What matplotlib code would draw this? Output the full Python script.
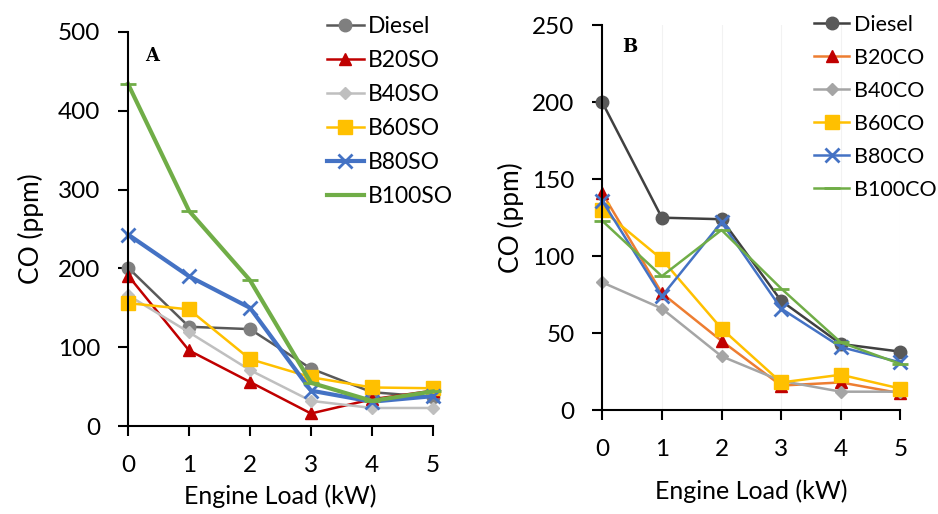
import matplotlib.pyplot as plt

plt.rcParams['font.family'] = ['Lato', 'DejaVu Sans']

load = [0, 1, 2, 3, 4, 5]

# panel A: sunflower oil blends
labels_a = ["Diesel", "B20SO", "B40SO", "B60SO", "B80SO", "B100SO"]
diesel_a = [201, 126, 123, 73, 43, 37]
b20so = [191, 96, 56, 16, 34, 45]
b40so = [166, 119, 71, 32, 23, 23]
b60so = [156, 148, 85, 62, 49, 48]
b80so = [243, 190, 150, 45, 31, 38]
b100so = [434, 273, 185, 55, 32, 44]

# panel B: castor oil blends
labels_b = ["Diesel", "B20CO", "B40CO", "B60CO", "B80CO", "B100CO"]
diesel_b = [200, 125, 124, 71, 43, 38]
b20co = [141, 76, 45, 16, 18, 11]
b40co = [83, 66, 35, 19, 12, 12]
b60co = [130, 98, 53, 18, 23, 14]
b80co = [136, 74, 122, 66, 41, 31]
b100co = [123, 87, 117, 79, 44, 30]

fig = plt.figure(figsize=(9.38, 5.14), dpi=100)
axA = fig.add_axes([0.1365, 0.171, 0.325, 0.767])
axB = fig.add_axes([0.642, 0.202, 0.318, 0.749])

# (line color, marker, marker color, marker size, line width)
styles_a = [
    ("#595959", "o", "#7f7f7f", 9, 1.8),
    ("#c00000", "^", "#c00000", 9, 1.8),
    ("#bfbfbf", "D", "#bfbfbf", 6, 1.8),
    ("#ffc000", "s", "#ffc000", 10, 1.8),
    ("#4472c4", "x", "#4472c4", 10, 3.0),
    ("#70ad47", "_", "#70ad47", 12, 3.0),
]
styles_b = [
    ("#404040", "o", "#595959", 9, 1.8),
    ("#ed7d31", "^", "#c00000", 9, 1.8),
    ("#a5a5a5", "D", "#a5a5a5", 6, 1.8),
    ("#ffc000", "s", "#ffc000", 10, 1.8),
    ("#4472c4", "x", "#4472c4", 10, 1.8),
    ("#70ad47", "_", "#70ad47", 12, 1.8),
]

series_a = [diesel_a, b20so, b40so, b60so, b80so, b100so]
series_b = [diesel_b, b20co, b40co, b60co, b80co, b100co]

for ax, series, labels, styles in [(axA, series_a, labels_a, styles_a),
                                   (axB, series_b, labels_b, styles_b)]:
    for vals, lab, (lc, mk, mc, ms, lw) in zip(series, labels, styles):
        ax.plot(load, vals, color=lc, lw=lw, marker=mk, markersize=ms,
                markerfacecolor=mc, markeredgecolor=mc, markeredgewidth=2 if mk in "x_" else 1,
                label=lab, clip_on=False)
    ax.set_xlim(0, 5)
    ax.set_xticks(load)
    ax.spines['top'].set_visible(False)
    ax.spines['right'].set_visible(False)
    ax.spines['left'].set_linewidth(1.5)
    ax.spines['bottom'].set_linewidth(1.5)
    ax.tick_params(axis='both', labelsize=17.5, length=7, width=1.5, direction='out')
    ax.tick_params(axis='x', pad=14)
    ax.tick_params(axis='y', pad=13)

axA.set_ylabel("CO (ppm)", fontsize=19, labelpad=10)
axB.set_ylabel("CO (ppm)", fontsize=19, labelpad=6)
axA.set_xlabel("Engine Load (kW)", fontsize=18, labelpad=6)
axB.set_xlabel("Engine Load (kW)", fontsize=18, labelpad=14)

axA.set_ylim(0, 500)
axA.set_yticks([0, 100, 200, 300, 400, 500])
axB.set_ylim(0, 250)
axB.set_yticks([0, 50, 100, 150, 200, 250])
axB.grid(axis='x', color='#f2f2f2', lw=0.8)
axB.set_axisbelow(True)

axA.text(0.079, 0.94, "A", transform=axA.transAxes, fontsize=13, fontweight='bold',
         family='DejaVu Serif', ha='center', va='center')
axB.text(0.094, 0.943, "B", transform=axB.transAxes, fontsize=13, fontweight='bold',
         family='DejaVu Serif', ha='center', va='center')

fig.legend(handles=axA.get_lines(), loc='upper left', bbox_to_anchor=(0.334, 0.996),
           frameon=False, fontsize=16.5, handlelength=1.6, handletextpad=0.2,
           labelspacing=0.57, borderpad=0.1)
fig.legend(handles=axB.get_lines(), loc='upper left', bbox_to_anchor=(0.854, 0.996),
           frameon=False, fontsize=15.5, handlelength=1.65, handletextpad=0.2,
           labelspacing=0.6, borderpad=0.1)

plt.savefig("out.png", dpi=100)
